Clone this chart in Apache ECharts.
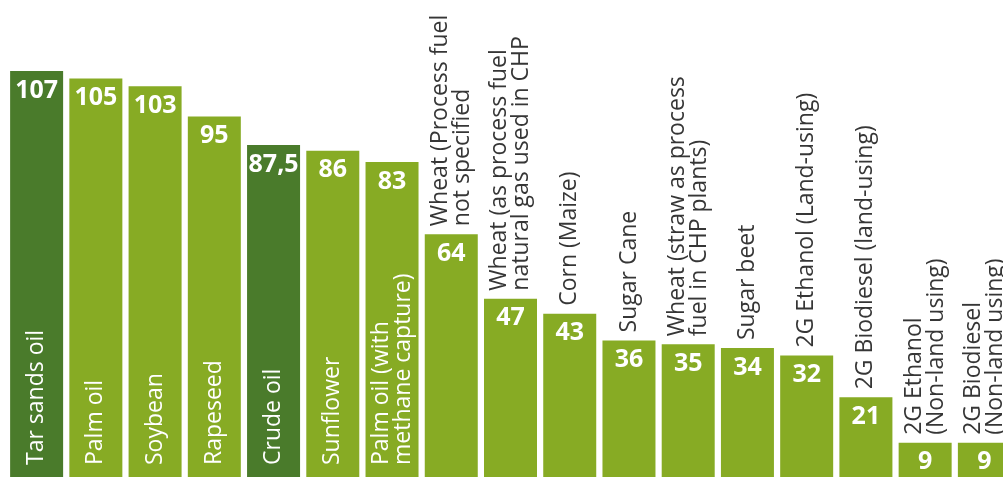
<!DOCTYPE html>
<html>
<head>
<meta charset="utf-8">
<script src="https://cdn.jsdelivr.net/npm/echarts@6/dist/echarts.min.js"></script>
<style>
  html, body { margin: 0; padding: 0; background: #ffffff; overflow: hidden; }
  #chart { width: 1003px; height: 477px; }
</style>
</head>
<body>
<div id="chart"></div>
<script>
// Greenhouse-gas intensity per fuel pathway
const categories = [
  'Tar sands oil',
  'Palm oil',
  'Soybean',
  'Rapeseed',
  'Crude oil',
  'Sunflower',
  'Palm oil (with\nmethane capture)',
  'Wheat (Process fuel\nnot specified',
  'Wheat (as process fuel\nnatural gas used in CHP',
  'Corn (Maize)',
  'Sugar Cane',
  'Wheat (straw as process\nfuel in CHP plants)',
  'Sugar beet',
  '2G Ethanol (Land-using)',
  '2G Biodiesel (land-using)',
  '2G Ethanol\n(Non-land using)',
  '2G Biodiesel\n(Non-land using)'
];
const values = [107, 105, 103, 95, 87.5, 86, 83, 64, 47, 43, 36, 35, 34, 32, 21, 9, 9];
const fossilFuels = ['Tar sands oil', 'Crude oil'];

const FOSSIL_COLOR = '#4a7b2b';
const BIO_COLOR = '#87ab24';
const INSIDE_MIN = 80; // bars at least this tall carry their name inside

const fmt = v => String(v).replace('.', ',');
const font = '"Open Sans", "Noto Sans", sans-serif';

const chart = echarts.init(document.getElementById('chart'));

chart.setOption({
  animation: false,
  backgroundColor: '#ffffff',
  // the plot runs a little past the right edge, so the last bar is clipped
  grid: { left: 7, width: 1007, top: 71, bottom: 0, outerBoundsMode: 'none' },
  xAxis: {
    type: 'category',
    data: categories,
    axisLine: { show: false },
    axisTick: { show: false },
    axisLabel: { show: false },
    splitLine: { show: false }
  },
  yAxis: {
    type: 'value',
    min: 0,
    max: 107,
    show: false,
    splitLine: { show: false }
  },
  series: [
    {
      name: 'value',
      type: 'bar',
      barWidth: 53,
      data: values.map((v, i) => ({
        value: v,
        itemStyle: { color: fossilFuels.includes(categories[i]) ? FOSSIL_COLOR : BIO_COLOR }
      })),
      label: {
        show: true,
        position: 'insideTop',
        distance: 7,
        color: '#ffffff',
        fontFamily: font,
        fontWeight: 'bold',
        fontSize: 25,
        formatter: p => fmt(p.value)
      }
    },
    {
      name: 'name',
      type: 'bar',
      barWidth: 53,
      barGap: '-100%',
      silent: true,
      itemStyle: { color: 'rgba(0,0,0,0)' },
      z: 3,
      data: values.map((v, i) => {
        const inside = v >= INSIDE_MIN;
        return {
          value: v,
          label: {
            show: true,
            position: inside ? 'insideBottom' : 'top',
            distance: inside ? 12 : 8,
            rotate: 90,
            align: 'left',
            verticalAlign: 'middle',
            color: inside ? '#ffffff' : '#363636',
            fontFamily: font,
            fontSize: 23,
            lineHeight: 22,
            formatter: () => categories[i]
          }
        };
      })
    }
  ]
});
</script>
</body>
</html>
